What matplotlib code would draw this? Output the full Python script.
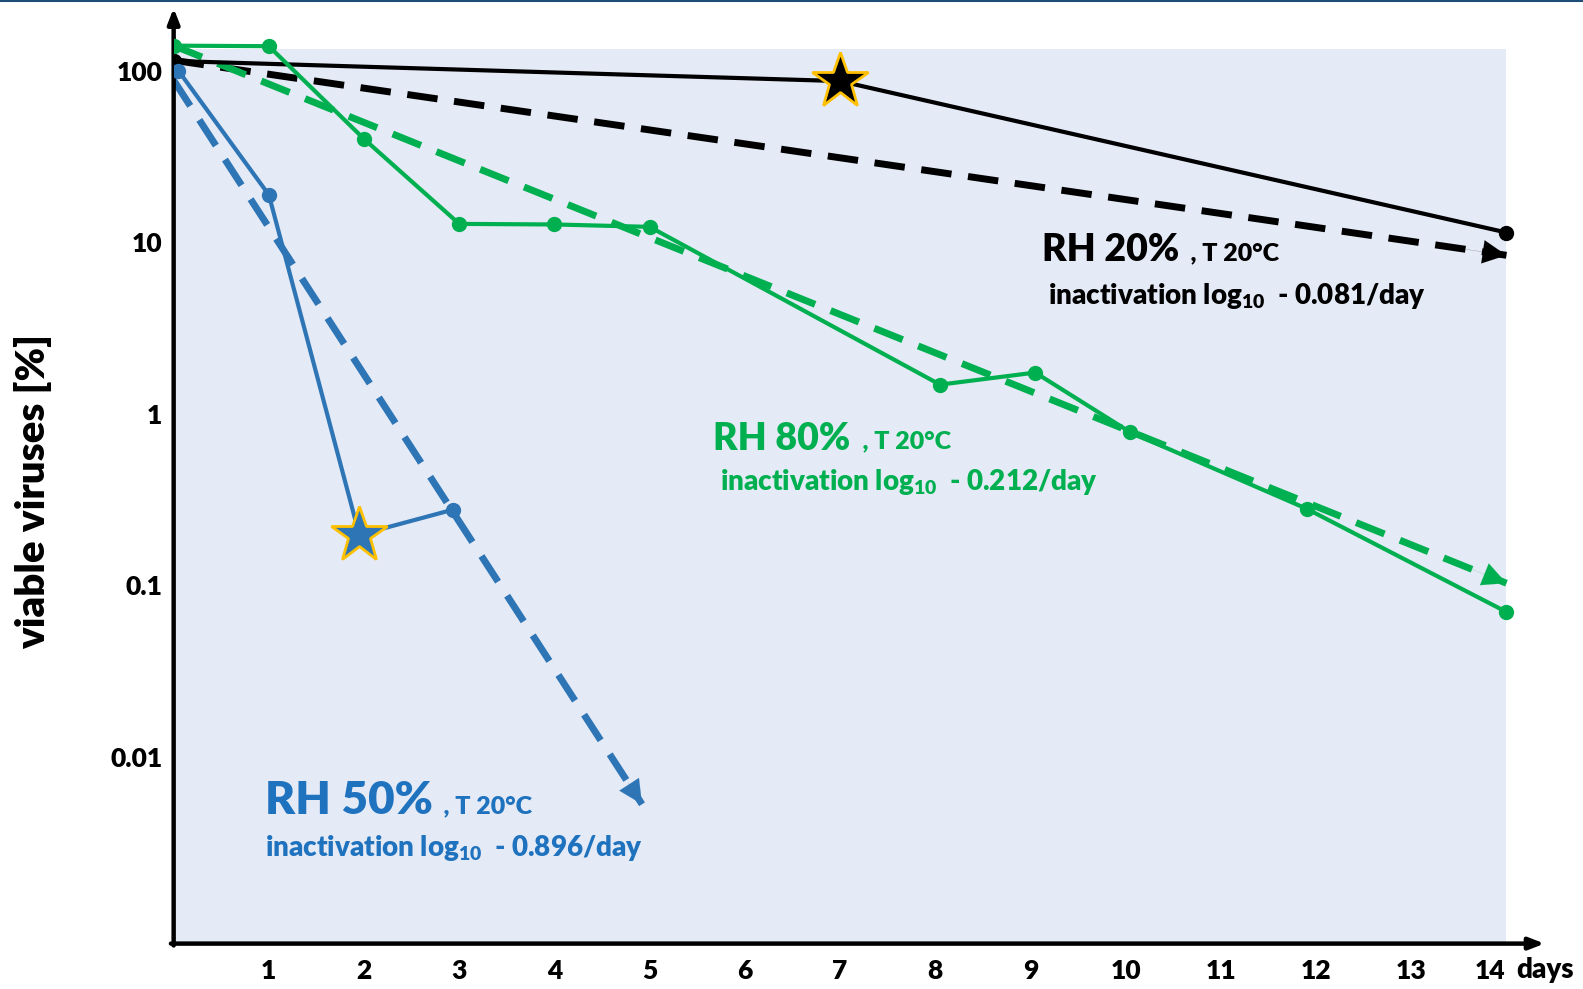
import matplotlib.pyplot as plt
import matplotlib.transforms as mtransforms
from matplotlib.lines import Line2D
import numpy as np

plt.rcParams['font.family'] = ['Lato', 'DejaVu Sans']
plt.rcParams['font.weight'] = 'heavy'
plt.rcParams['mathtext.default'] = 'regular'

# measured series (days, viable viruses %)
rh20_days = [0, 7, 14]
rh20_vals = [114, 87, 11.4]
rh20_trend_days = [0, 14]
rh20_trend_vals = [115, 8.4]

rh80_days = [0, 1, 2, 3, 4, 5, 8.05, 9.05, 10.05, 11.9, 14]
rh80_vals = [140, 139, 40, 12.8, 12.7, 12.3, 1.48, 1.74, 0.78, 0.28, 0.070]
rh80_trend_days = [0, 14]
rh80_trend_vals = [140, 0.103]

rh50_days = [0.05, 1, 1.95, 2.93]
rh50_vals = [100, 18.9, 0.197, 0.276]
rh50_trend_days = [0, 4.92]
rh50_trend_vals = [88, 0.0053]

# star = last point where virus was still detected
star_days = [7, 1.95]
star_vals = [87, 0.197]
star_colors = ['black', '#2E75B6']

ytick_vals = [100, 10, 1, 0.1, 0.01]
ytick_labels = ['100', '10', '1', '0.1', '0.01']
xtick_vals = list(range(1, 15))

BLACK = 'black'
GREEN = '#00B050'
BLUE = '#2E75B6'
BLUE_TXT = '#1F72BE'
BG = '#E4EAF6'
W = 'heavy'

fig = plt.figure(figsize=(15.83, 9.89), dpi=100)
ax = fig.add_axes([0.1097, 0.0459, 0.866, 0.9459])
ax.set_yscale('log')
ax.set_xlim(0, 14.4)
ax.set_ylim(10 ** -3.088, 10 ** 2.365)

# shaded plot area
ax.fill_between([0, 14], 10 ** -3.088, 10 ** 2.129, color=BG, lw=0, zorder=0)


def trend(days, vals, color):
    ax.plot(days, vals, color=color, lw=5, dashes=(4.4, 2.4), zorder=2,
            solid_capstyle='butt', dash_capstyle='butt')
    # arrow head at the end, direction from the (log) trend line
    t = 0.97
    x0 = days[0] + t * (days[1] - days[0])
    y0 = 10 ** (np.log10(vals[0]) + t * (np.log10(vals[1]) - np.log10(vals[0])))
    ax.annotate('', xy=(days[1], vals[1]), xytext=(x0, y0),
                arrowprops=dict(arrowstyle='-|>,head_length=0.85,head_width=0.42',
                                mutation_scale=20, color=color, lw=0.1,
                                shrinkA=0, shrinkB=0),
                zorder=3)


trend(rh20_trend_days, rh20_trend_vals, BLACK)
trend(rh80_trend_days, rh80_trend_vals, GREEN)
trend(rh50_trend_days, rh50_trend_vals, BLUE)

ax.plot(rh20_days, rh20_vals, color=BLACK, lw=3, marker='o', ms=10, zorder=4)
ax.plot(rh80_days, rh80_vals, color=GREEN, lw=3, marker='o', ms=10, zorder=4)
ax.plot(rh50_days, rh50_vals, color=BLUE, lw=3, marker='o', ms=10, zorder=4)

for d, v, c in zip(star_days, star_vals, star_colors):
    ax.plot([d], [v], marker='*', ms=42, color=c, mec='#FFC000', mew=2, zorder=5)

# axes drawn as arrows
for sp in ax.spines.values():
    sp.set_visible(False)
ax.annotate('', xy=(1, 0), xytext=(-0.002, 0), xycoords='axes fraction',
            arrowprops=dict(arrowstyle='-|>,head_length=0.9,head_width=0.35',
                            color='black', lw=3.2, shrinkA=0, shrinkB=0))
ax.annotate('', xy=(0, 1), xytext=(0, -0.002), xycoords='axes fraction',
            arrowprops=dict(arrowstyle='-|>,head_length=0.9,head_width=0.35',
                            color='black', lw=3.2, shrinkA=0, shrinkB=0))

ax.set_yticks(ytick_vals)
ax.set_yticklabels(ytick_labels)
ax.yaxis.set_minor_locator(plt.NullLocator())
ax.set_xticks(xtick_vals)
ax.set_xticklabels([str(d) for d in xtick_vals])
ax.tick_params(length=0, labelsize=19, pad=11)
ax.tick_params(axis='y', pad=8)
for lab in ax.get_xticklabels() + ax.get_yticklabels():
    lab.set_fontweight(W)
# "14" label pulled to the left to leave room for the unit
last = ax.get_xticklabels()[-1]
last.set_transform(last.get_transform() +
                   mtransforms.ScaledTranslation(-0.16, 0, fig.dpi_scale_trans))
ax.text(14.1, -0.014, 'days', transform=ax.get_xaxis_transform(), ha='left',
        va='top', fontsize=20, fontweight=W)

ax.set_ylabel('viable viruses [%]', fontsize=29, fontweight=W)
ax.yaxis.set_label_coords(-0.089, 0.483)


def label(x, y, head, size, color, rate, x2, y2):
    t = ax.text(x, y, head, fontsize=size, color=color, fontweight=W,
                va='center', ha='left', zorder=6)
    ax.annotate('  , T 20°C', xy=(1, 0.1), xycoords=t, fontsize=18, color=color,
                fontweight=W, va='bottom', ha='left')
    ax.text(x2, y2, 'inactivation log$_{10}$  - ' + rate, fontsize=20, color=color,
            fontweight=W, va='center', ha='left', zorder=6)


label(9.12, 8.98, 'RH 20%', 27, BLACK, '0.081/day', 9.18, 4.87)
label(5.67, 0.713, 'RH 80%', 27, GREEN, '0.212/day', 5.74, 0.398)
label(0.955, 0.00558, 'RH 50%', 33, BLUE_TXT, '0.896/day', 0.955, 0.00295)

fig.add_artist(Line2D([0, 1], [0.999, 0.999], color='#1F4E79', lw=1.5))

fig.savefig('out.png', dpi=100)
